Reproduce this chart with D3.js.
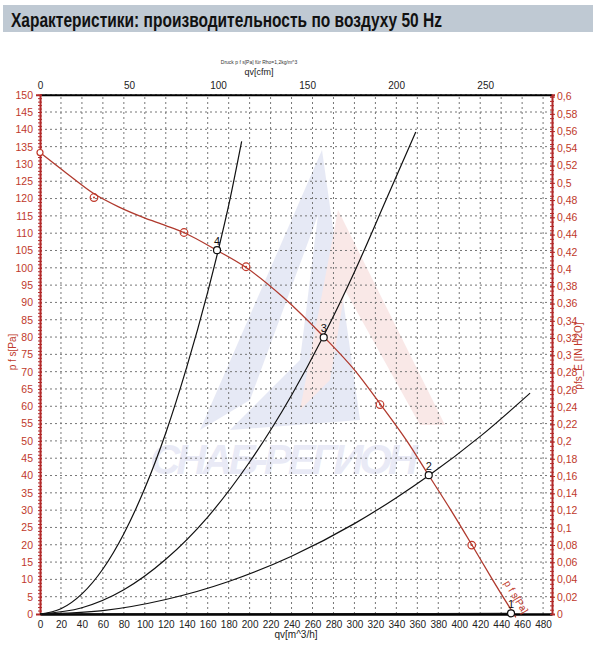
<!DOCTYPE html>
<html>
<head>
<meta charset="utf-8">
<script src="https://cdn.jsdelivr.net/npm/d3@7"></script>
<style>
  body { margin: 0; background: #fff; }
  svg { display: block; font-family: "Liberation Sans", Arial, sans-serif; }
</style>
</head>
<body>
<div id="chart"></div>
<script>
// values (qv in m^3/h, p in Pa)
var fanCurve = [[0,133.3],[25,127.4],[52,121.3],[75,117.6],[99,114.5],[120,112.2],[137,110.2],
  [169,105],[197,100],[232,91.5],[271,80],[300,70.5],[325,60.5],[350,50],[371,40],[392,30],
  [412,20],[432,9.8],[454,-1]];
var fanPoints = [[51.5,120.3],[137.4,110.2],[196.6,100.3],[324.4,60.5],[411.9,19.9]];
var sys4 = [[0,0],[20,1.5],[40,5.8],[60,13],[80,23.2],[100,36.3],[120,52.3],[140,71.3],[160,93],[170,105],[180,118],[192.4,136.5]];
var sys3 = [[0,0],[40,1.8],[80,7],[120,15.8],[160,28],[200,43.9],[240,63.2],[270,80],[300,98.8],[330,119.5],[358.5,139.2]];
var sys2 = [[0,0],[60,1],[120,4.2],[180,9.4],[240,16.7],[300,26.1],[340,33.6],[371,40],[420,51.3],[467.6,63.8]];
var sys1 = [[0,0],[150,0.05],[300,0.1],[449.4,0.2]];
var opPoints = [[449.4,0.2,"1"],[370.9,40.1,"2"],[270.7,79.9,"3"],[168.9,105.1,"4"]];
var qvTicks = d3.range(0, 481, 20);
var cfmTicks = [0,50,100,150,200,250];
var paTicks = d3.range(0, 151, 5);
var inTicks = d3.range(0, 31).map(function(i){ return i*0.02; });

var width = 593, height = 651;
var red = "#c0392b", axisRed = "#b22a2a";

var svg = d3.select("#chart").append("svg")
  .attr("width", width)
  .attr("height", height);

// header bar
svg.append("rect")
  .attr("x", 3).attr("y", 5).attr("width", 590).attr("height", 27)
  .style("fill", "#bfc9d3");
svg.append("text")
  .text("Характеристики: производительность по воздуху 50 Hz")
  .attr("x", 11).attr("y", 27)
  .attr("textLength", 431)
  .attr("lengthAdjust", "spacingAndGlyphs")
  .style("font-weight", "bold")
  .style("font-size", "20px")
  .style("fill", "#111");

var x = d3.scaleLinear().domain([0, 488.5]).range([40, 552]);
var y = d3.scaleLinear().domain([0, 150]).range([614, 94.7]);
var xCfm = d3.scaleLinear().domain([0, 488.5/1.699]).range([40, 552]);
var yIn = d3.scaleLinear().domain([0, 150/249.089]).range([614, 94.7]);

// watermark
var wm = svg.append("g").style("opacity", 0.13);
wm.append("path")
  .attr("d", "M322,150 L200,430 L250,400 L318,215 L300,360 L230,430 L360,420 Z")
  .style("fill", "#4a5bb5");
wm.append("path")
  .attr("d", "M338,210 L445,425 L420,425 L345,290 L330,380 L300,410 Z")
  .style("fill", "#d9534f");
wm.append("text")
  .text("СНАБ-РЕГИОН")
  .attr("x", 150).attr("y", 474)
  .attr("textLength", 268)
  .style("font-size", "42px")
  .style("font-weight", "bold")
  .style("font-style", "italic")
  .style("fill", "#5a68c0");

// grid
var grid = svg.append("g")
  .style("stroke", "#777")
  .style("stroke-width", 1)
  .style("stroke-dasharray", "2,3");
grid.selectAll(".gx").data(qvTicks.slice(1)).enter().append("line")
  .attr("x1", function(d){ return x(d); }).attr("x2", function(d){ return x(d); })
  .attr("y1", y(0)).attr("y2", y(150));
grid.selectAll(".gy").data(paTicks.slice(1)).enter().append("line")
  .attr("x1", x(0)).attr("x2", 552)
  .attr("y1", function(d){ return y(d); }).attr("y2", function(d){ return y(d); });

// axes
var bottomAxis = svg.append("g")
  .attr("transform", "translate(0," + y(0) + ")")
  .call(d3.axisBottom(x).tickValues(qvTicks).tickSize(0).tickPadding(7));
bottomAxis.select(".domain").style("stroke", "#000").style("stroke-width", 2.5);
bottomAxis.selectAll("text").style("font-size", "10px").style("fill", "#222");

var topAxis = svg.append("g")
  .attr("transform", "translate(0," + y(150) + ")")
  .call(d3.axisTop(xCfm).tickValues(cfmTicks).tickSize(0).tickPadding(6));
topAxis.select(".domain").style("stroke", "#000").style("stroke-width", 2);
topAxis.selectAll("text").style("font-size", "10px").style("fill", "#222");

var leftMinor = svg.append("g")
  .attr("transform", "translate(" + x(0) + ",0)")
  .call(d3.axisLeft(y).tickValues(d3.range(0, 151, 1)).tickSize(3).tickFormat(""));
leftMinor.selectAll("line").attr("x2", 2).attr("x1", -2).style("stroke", axisRed);
leftMinor.select(".domain").remove();
var leftAxis = svg.append("g")
  .attr("transform", "translate(" + x(0) + ",0)")
  .call(d3.axisLeft(y).tickValues(paTicks).tickSize(4).tickPadding(3));
leftAxis.select(".domain").style("stroke", axisRed).style("stroke-width", 2);
leftAxis.selectAll("line").attr("x2", 2).style("stroke", axisRed);
leftAxis.selectAll("text").style("font-size", "10.5px").style("fill", red);

var rightMinor = svg.append("g")
  .attr("transform", "translate(552,0)")
  .call(d3.axisRight(yIn).tickValues(d3.range(0, 121).map(function(i){ return i*0.005; })).tickSize(2).tickFormat(""));
rightMinor.selectAll("line").attr("x1", -2).style("stroke", axisRed);
rightMinor.select(".domain").remove();
var rightAxis = svg.append("g")
  .attr("transform", "translate(552,0)")
  .call(d3.axisRight(yIn).tickValues(inTicks).tickSize(3).tickPadding(2)
    .tickFormat(function(d){ return d3.format(".2~f")(d).replace(".", ","); }));
rightAxis.select(".domain").style("stroke", axisRed).style("stroke-width", 2);
rightAxis.selectAll("line").attr("x1", -2).style("stroke", axisRed);
rightAxis.selectAll("text").style("font-size", "10.5px").style("fill", red);

// axis titles
svg.append("text").text("Druck p f s[Pa] für Rho=1,2kg/m^3")
  .attr("x", 259).attr("y", 64).attr("text-anchor", "middle")
  .style("font-size", "5px").style("fill", "#333");
svg.append("text").text("qv[cfm]")
  .attr("x", 259).attr("y", 75).attr("text-anchor", "middle")
  .style("font-size", "9px").style("fill", "#222");
svg.append("text").text("qv[m^3/h]")
  .attr("x", 296).attr("y", 638).attr("text-anchor", "middle")
  .style("font-size", "10px").style("fill", "#222");
svg.append("text").text("p f s[Pa]")
  .attr("transform", "translate(16,352) rotate(-90)").attr("text-anchor", "middle")
  .style("font-size", "10px").style("fill", red);
svg.append("text").text("pfs_E [IN H2O]")
  .attr("transform", "translate(582,356) rotate(-90)").attr("text-anchor", "middle")
  .style("font-size", "10px").style("fill", red);

// curves
var line = d3.line()
  .x(function(d){ return x(d[0]); })
  .y(function(d){ return y(d[1]); })
  .curve(d3.curveMonotoneX);

[sys4, sys3, sys2, sys1].forEach(function(s){
  svg.append("path").datum(s).attr("d", line)
    .style("fill", "none").style("stroke", "#111").style("stroke-width", 1.2);
});

svg.append("path").datum(fanCurve).attr("d", line)
  .style("fill", "none").style("stroke", "#b03a2e").style("stroke-width", 1.3);

// fan curve label along the line
var a = fanCurve[fanCurve.length - 3], b = fanCurve[fanCurve.length - 1];
var ang = Math.atan2(y(b[1]) - y(a[1]), x(b[0]) - x(a[0])) * 180 / Math.PI;
svg.append("text").text("p f s[Pa]")
  .attr("transform", "translate(" + (x(432) + 11) + "," + (y(9.8) + 3) + ") rotate(" + ang + ")")
  .style("font-size", "10px").style("fill", red);

// measured points
svg.selectAll(".fp").data(fanPoints).enter().append("circle")
  .attr("cx", function(d){ return x(d[0]); }).attr("cy", function(d){ return y(d[1]); })
  .attr("r", 3.8).style("fill", "none").style("stroke", red).style("stroke-width", 1.2);
svg.selectAll(".fpd").data(fanPoints).enter().append("circle")
  .attr("cx", function(d){ return x(d[0]); }).attr("cy", function(d){ return y(d[1]); })
  .attr("r", 1).style("fill", red);
svg.append("circle")
  .attr("cx", x(fanCurve[0][0])).attr("cy", y(fanCurve[0][1]))
  .attr("r", 3).style("fill", "#fff").style("stroke", red).style("stroke-width", 1.2);

// operating points
svg.selectAll(".op").data(opPoints).enter().append("circle")
  .attr("cx", function(d){ return x(d[0]); }).attr("cy", function(d){ return y(d[1]); })
  .attr("r", 3.5).style("fill", "#fff").style("stroke", "#111").style("stroke-width", 1.2);
svg.selectAll(".opl").data(opPoints).enter().append("text")
  .text(function(d){ return d[2]; })
  .attr("x", function(d){ return x(d[0]); }).attr("y", function(d){ return y(d[1]) - 5; })
  .attr("text-anchor", "middle")
  .style("font-size", "11px").style("fill", "#111");
</script>
</body>
</html>
